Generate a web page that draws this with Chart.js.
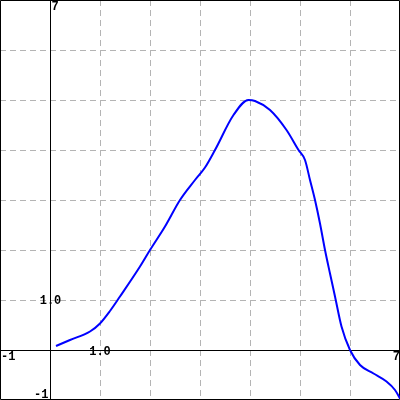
<!DOCTYPE html>
<html>
<head>
<meta charset="utf-8">
<script src="https://cdn.jsdelivr.net/npm/chart.js@4/dist/chart.umd.min.js"></script>
<style>
  body { margin: 0; background: #fff; }
</style>
</head>
<body>
<canvas id="plot" width="400" height="400"></canvas>
<script>
// curve samples
var xs = [0.12, 0.4, 0.8, 1.0, 1.2, 1.4, 1.8, 2.0, 2.3, 2.6, 2.9, 3.1, 3.3, 3.67, 3.97, 4.1, 4.4, 4.73, 4.97, 5.1, 5.2, 5.3, 5.4, 5.5, 5.6, 5.7, 5.83, 6.0, 6.2, 6.47, 6.73, 6.9, 7.0]
var ys = [0.08, 0.2, 0.37, 0.53, 0.78, 1.07, 1.67, 2.0, 2.47, 3.0, 3.4, 3.65, 4.0, 4.7, 5.0, 4.98, 4.8, 4.4, 4.0, 3.8, 3.4, 3.0, 2.53, 2.0, 1.53, 1.07, 0.47, 0.0, -0.3, -0.47, -0.63, -0.8, -0.97]
var xMin = -1, xMax = 7
var yMin = -1, yMax = 7

var pts = xs.map(function (x, i) { return { x: x, y: ys[i] } })

// axes through zero, frame and the little labels
var axesPlugin = {
  id: "axes",
  beforeDatasetsDraw: function (chart) {
    var c = chart.ctx, sx = chart.scales.x, sy = chart.scales.y
    var x0 = Math.round(sx.getPixelForValue(0)) + 0.5
    var y0 = Math.round(sy.getPixelForValue(0)) + 0.5
    var a = chart.chartArea
    c.save()
    c.strokeStyle = "#000"
    c.lineWidth = 1
    c.setLineDash([])
    c.beginPath()
    c.moveTo(x0, a.top); c.lineTo(x0, a.bottom)
    c.moveTo(a.left, y0); c.lineTo(a.right, y0)
    c.rect(a.left + 0.5, a.top + 0.5, a.right - a.left - 1, a.bottom - a.top - 1)
    c.stroke()

    c.fillStyle = "#000"
    c.font = "bold 12px 'Liberation Mono'"
    c.textBaseline = "middle"
    c.textAlign = "left"
    c.fillText(String(yMax), x0 + 1, a.top + 7)
    c.fillText(String(xMin), a.left + 1, y0 + 6)
    c.textAlign = "right"
    c.fillText(String(xMax), a.right, y0 + 6)
    c.fillText(String(yMin), x0 - 2, a.bottom - 5)
    c.textAlign = "center"
    c.fillText("1.0", sx.getPixelForValue(1), y0 + 1)
    c.fillText("1.0", x0, sy.getPixelForValue(1) + 1)
    c.restore()
  }
}

var chart = new Chart(document.getElementById("plot"), {
  type: "scatter",
  plugins: [axesPlugin],
  data: {
    datasets: [
      {
        data: pts,
        showLine: true,
        borderColor: "#0000ff",
        borderWidth: 2,
        pointRadius: 0,
        cubicInterpolationMode: "monotone",
        fill: false,
      },
    ],
  },
  options: {
    responsive: false,
    animation: false,
    layout: { padding: 0 },
    plugins: { legend: { display: false }, tooltip: { enabled: false } },
    scales: {
      x: {
        type: "linear",
        min: xMin,
        max: xMax,
        ticks: { display: false, stepSize: 1 },
        grid: { color: "#b4b4b4", drawTicks: false, lineWidth: 1 },
        border: { display: false, dash: [6, 4] },
      },
      y: {
        type: "linear",
        min: yMin,
        max: yMax,
        ticks: { display: false, stepSize: 1 },
        grid: { color: "#b4b4b4", drawTicks: false, lineWidth: 1 },
        border: { display: false, dash: [6, 4] },
      },
    },
  },
})
</script>
</body>
</html>
